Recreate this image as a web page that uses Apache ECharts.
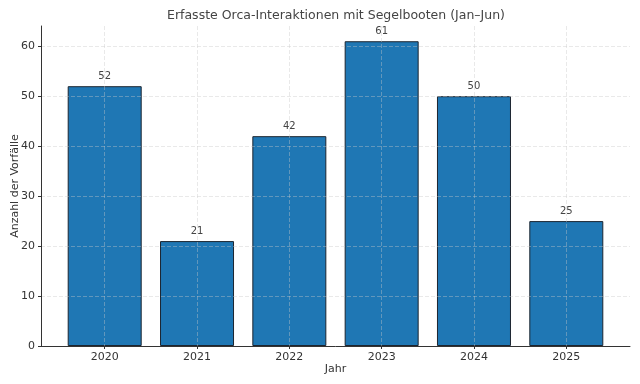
<!DOCTYPE html>
<html>
<head>
<meta charset="utf-8">
<script src="https://cdn.jsdelivr.net/npm/echarts@6/dist/echarts.min.js"></script>
<style>html,body{margin:0;padding:0;background:#fff}#c{width:640px;height:384px}</style>
</head>
<body>
<div id="c"></div>
<script>
const categories = ['2020', '2021', '2022', '2023', '2024', '2025'];
const values = [52, 21, 42, 61, 50, 25];
const yTicks = [0, 10, 20, 30, 40, 50, 60];

const positions = categories.map((_, i) => i);
const chart = echarts.init(document.getElementById('c'), null, {renderer: 'canvas'});
const font = 'DejaVu Sans';
chart.setOption({
  animation: false,
  backgroundColor: '#fff',
  title: {
    text: 'Erfasste Orca-Interaktionen mit Segelbooten (Jan–Jun)',
    left: 331, top: 4, textAlign: 'center',
    textStyle: {fontFamily: font, fontSize: 12.5, fontWeight: 'normal', color: '#444'}
  },
  grid: {left: 41, right: 10, top: 26, bottom: 38, containLabel: false, outerBoundsMode: 'none'},
  xAxis: {
    type: 'value', min: -0.69, max: 5.69, z: 10,
    name: 'Jahr', nameLocation: 'middle', nameGap: 18, nameMoveOverlap: false,
    nameTextStyle: {fontFamily: font, fontSize: 11, color: '#333'},
    axisLine: {show: true, onZero: false, lineStyle: {color: '#333', width: 1}},
    axisTick: {show: true, customValues: positions, length: 3, lineStyle: {color: '#333'}},
    axisLabel: {customValues: positions, formatter: v => categories[Math.round(v)], fontFamily: font, fontSize: 11, color: '#333', margin: 6},
    splitLine: {show: true, lineStyle: {color: 'rgba(200,200,200,0.4)', type: [4, 2], width: 1}}
  },
  yAxis: {
    type: 'value', min: 0, max: 64.05, z: 10,
    name: 'Anzahl der Vorfälle', nameLocation: 'middle', nameGap: 20, nameMoveOverlap: false,
    nameTextStyle: {fontFamily: font, fontSize: 11, color: '#333'},
    axisLine: {show: true, onZero: false, lineStyle: {color: '#333', width: 1}},
    axisTick: {show: true, customValues: yTicks, length: 3, lineStyle: {color: '#333'}},
    axisLabel: {customValues: yTicks, fontFamily: font, fontSize: 11, color: '#333', margin: 6},
    splitLine: {show: true, lineStyle: {color: 'rgba(200,200,200,0.4)', type: [4, 2], width: 1}}
  },
  series: [{
    type: 'bar',
    data: values.map((v, i) => [positions[i], v]),
    barWidth: 74,
    itemStyle: {color: '#1f77b4', borderColor: '#1c2530', borderWidth: 1},
    label: {show: true, position: 'top', distance: 5, fontFamily: font, fontSize: 10, color: '#444'}
  }]
});
</script>
</body>
</html>
